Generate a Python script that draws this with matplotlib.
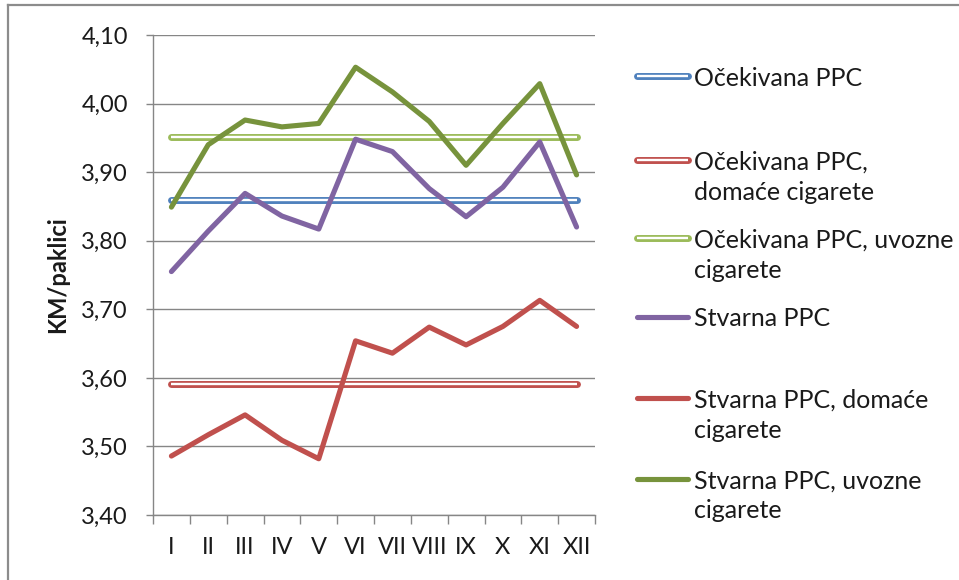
import matplotlib
matplotlib.use('Agg')
import matplotlib.pyplot as plt
from matplotlib.lines import Line2D
from matplotlib.ticker import FuncFormatter, FixedLocator, NullFormatter
import numpy as np

plt.rcParams['font.family'] = ['Lato', 'DejaVu Sans']

# data
months = ['I', 'II', 'III', 'IV', 'V', 'VI', 'VII', 'VIII', 'IX', 'X', 'XI', 'XII']
ocekivana = 3.859
ocekivana_domace = 3.591
ocekivana_uvozne = 3.951
stvarna = [3.755, 3.814, 3.869, 3.836, 3.817, 3.948, 3.930, 3.876, 3.835, 3.878, 3.944, 3.820]
stvarna_domace = [3.486, 3.517, 3.546, 3.509, 3.482, 3.654, 3.636, 3.674, 3.648, 3.675, 3.713, 3.675]
stvarna_uvozne = [3.849, 3.940, 3.976, 3.966, 3.971, 4.053, 4.017, 3.974, 3.910, 3.971, 4.029, 3.896]

labels = ['Očekivana PPC',
          'Očekivana PPC,\ndomaće cigarete',
          'Očekivana PPC, uvozne\ncigarete',
          'Stvarna PPC',
          'Stvarna PPC, domaće\ncigarete',
          'Stvarna PPC, uvozne\ncigarete']

BLUE = '#4F81BD'
RED = '#C0504D'
GREEN = '#9BBB59'
PURPLE = '#8064A2'
DGREEN = '#77933C'
GRID = '#868686'
TEXT = '#1a1a1a'
FS = 17
LEG_FS = 18

W, H = 959, 580
fig = plt.figure(figsize=(W / 100, H / 100), dpi=100)
ax = fig.add_axes([153 / W, 1 - 515 / H, 442 / W, 480 / H])

x = np.arange(len(months))

outer_lw = 5.0
inner_lw = 1.7


def hollow(axis_obj, xs, ys, color):
    axis_obj.plot(xs, ys, color=color, lw=outer_lw, solid_capstyle='round', zorder=3)
    axis_obj.plot(xs, ys, color='white', lw=inner_lw, solid_capstyle='butt', zorder=3.1)


hollow(ax, x, [ocekivana] * len(x), BLUE)
hollow(ax, x, [ocekivana_domace] * len(x), RED)
hollow(ax, x, [ocekivana_uvozne] * len(x), GREEN)

act_kw = dict(lw=3.7, solid_capstyle='round', solid_joinstyle='round', zorder=4)
ax.plot(x, stvarna, color=PURPLE, **act_kw)
ax.plot(x, stvarna_domace, color=RED, **act_kw)
ax.plot(x, stvarna_uvozne, color=DGREEN, **act_kw)

ax.set_xlim(-0.5, len(months) - 0.5)
ax.set_ylim(3.40, 4.10)
ax.set_yticks(np.arange(3.40, 4.101, 0.10))
ax.yaxis.set_major_formatter(FuncFormatter(lambda v, p: f'{v:.2f}'.replace('.', ',')))
ax.grid(axis='y', color=GRID, lw=1.0, zorder=0)
ax.set_axisbelow(True)

# x ticks between categories, labels at category centres
ax.xaxis.set_major_locator(FixedLocator(np.arange(-0.5, len(months), 1.0)))
ax.xaxis.set_major_formatter(NullFormatter())
ax.xaxis.set_minor_locator(FixedLocator(x))
ax.set_xticklabels(months, minor=True)
ax.tick_params(axis='x', which='major', length=6.5, width=1, color=GRID, direction='out')
ax.tick_params(axis='x', which='minor', length=0, pad=16, labelsize=FS, labelcolor=TEXT)
ax.tick_params(axis='y', length=5, width=1, color=GRID, direction='out', pad=13,
               labelsize=FS, labelcolor=TEXT)

for s in ['top', 'right']:
    ax.spines[s].set_visible(False)
for s in ['left', 'bottom']:
    ax.spines[s].set_color(GRID)
    ax.spines[s].set_linewidth(1.0)

fig.text(58 / W, 1 - 275 / H, 'KM/paklici', rotation=90, ha='center', va='center',
         fontsize=FS, fontweight='bold', color=TEXT)

# legend, drawn like the spreadsheet one (handle next to first text line)
entry_y = [76, 160, 238, 317, 398, 479]
line_gap = 30
styles = [('h', BLUE), ('h', RED), ('h', GREEN), ('s', PURPLE), ('s', RED), ('s', DGREEN)]
for lab, yy, (kind, col) in zip(labels, entry_y, styles):
    fy = 1 - yy / H
    if kind == 'h':
        fig.add_artist(Line2D([637 / W, 688 / W], [fy, fy], color=col, lw=outer_lw,
                              solid_capstyle='round'))
        fig.add_artist(Line2D([637 / W, 688 / W], [fy, fy], color='white', lw=inner_lw,
                              solid_capstyle='butt'))
    else:
        fig.add_artist(Line2D([637 / W, 688 / W], [fy, fy], color=col, lw=3.7,
                              solid_capstyle='round'))
    for j, part in enumerate(lab.split('\n')):
        fig.text(694 / W, 1 - (yy + j * line_gap) / H, part, ha='left', va='center_baseline',
                 fontsize=LEG_FS, color=TEXT)

# chart border (top and left visible in the crop)
fig.add_artist(Line2D([8 / W, 1], [1 - 5 / H, 1 - 5 / H], color='#8c8c8c', lw=1.6))
fig.add_artist(Line2D([8 / W, 8 / W], [0, 1 - 5 / H], color='#8c8c8c', lw=1.6))

fig.savefig('out.png', dpi=100)
